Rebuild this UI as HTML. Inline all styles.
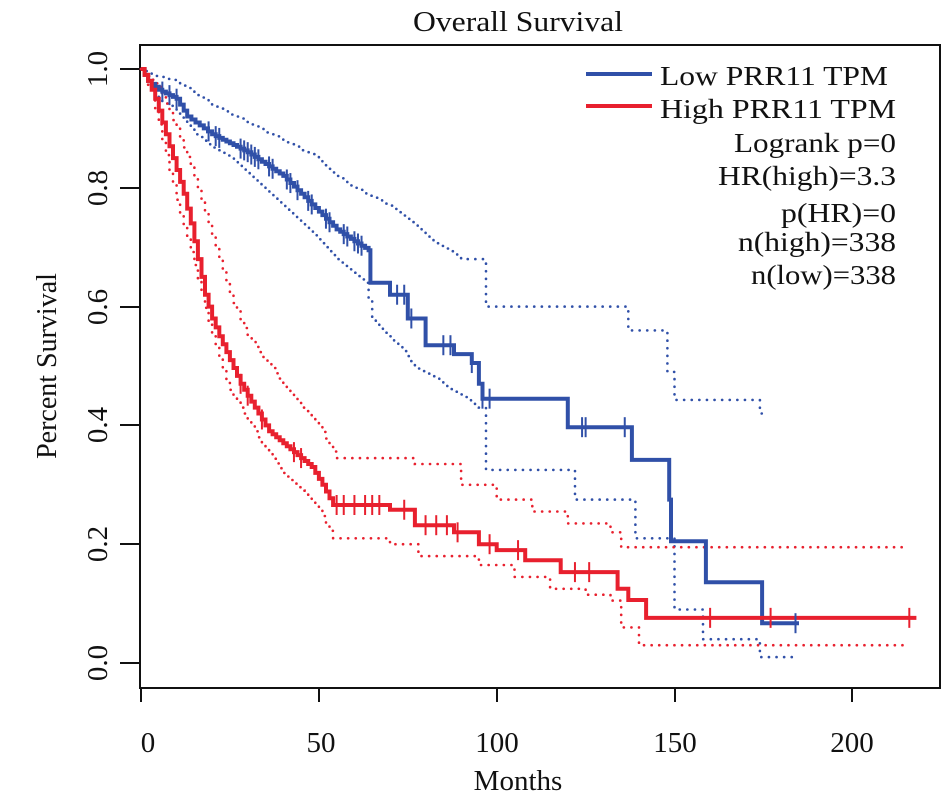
<!DOCTYPE html>
<html><head><meta charset="utf-8"><style>
html,body{margin:0;padding:0;background:#fff;}
svg{display:block;font-family:"Liberation Serif",serif;}
</style></head><body>
<svg id="s" width="945" height="800" viewBox="0 0 945 800" xmlns="http://www.w3.org/2000/svg">
<rect x="140" y="45" width="800" height="643" fill="none" stroke="#111" stroke-width="2"/>
<text x="518" y="31" font-size="28" text-anchor="middle" fill="#111" textLength="210" lengthAdjust="spacingAndGlyphs">Overall Survival</text>
<text x="518" y="790" font-size="29" text-anchor="middle" fill="#111">Months</text>
<text transform="translate(56,366) rotate(-90)" font-size="28" text-anchor="middle" fill="#111">Percent Survival</text>
<g stroke="#111" stroke-width="2">
<line x1="141" y1="688" x2="141" y2="702"/><line x1="319" y1="688" x2="319" y2="702"/><line x1="497" y1="688" x2="497" y2="702"/><line x1="675" y1="688" x2="675" y2="702"/><line x1="852" y1="688" x2="852" y2="702"/>
<line x1="120" y1="663" x2="140" y2="663"/><line x1="120" y1="544" x2="140" y2="544"/><line x1="120" y1="425" x2="140" y2="425"/><line x1="120" y1="307" x2="140" y2="307"/><line x1="120" y1="188" x2="140" y2="188"/><line x1="120" y1="69" x2="140" y2="69"/>
</g>
<g font-size="29" text-anchor="middle" fill="#111">
<text x="148" y="752">0</text><text x="321" y="752">50</text><text x="497" y="752">100</text><text x="675" y="752">150</text><text x="852" y="752">200</text>
</g>
<g font-size="29" text-anchor="middle" fill="#111">
<text transform="translate(107,663) rotate(-90)">0.0</text>
<text transform="translate(107,544) rotate(-90)">0.2</text>
<text transform="translate(107,425) rotate(-90)">0.4</text>
<text transform="translate(107,307) rotate(-90)">0.6</text>
<text transform="translate(107,188) rotate(-90)">0.8</text>
<text transform="translate(107,69) rotate(-90)">1.0</text>
</g>
<line x1="586" y1="74" x2="652" y2="74" stroke="#3050a8" stroke-width="4"/>
<line x1="586" y1="106" x2="652" y2="106" stroke="#e8202e" stroke-width="4"/>
<g font-size="27" text-anchor="end" fill="#111">
<text x="888" y="85" textLength="228" lengthAdjust="spacingAndGlyphs">Low PRR11 TPM</text>
<text x="896" y="118" textLength="236" lengthAdjust="spacingAndGlyphs">High PRR11 TPM</text>
<text x="896" y="152" textLength="162" lengthAdjust="spacingAndGlyphs">Logrank p=0</text>
<text x="896" y="185" textLength="178" lengthAdjust="spacingAndGlyphs">HR(high)=3.3</text>
<text x="896" y="222" textLength="115" lengthAdjust="spacingAndGlyphs">p(HR)=0</text>
<text x="896" y="251" textLength="158" lengthAdjust="spacingAndGlyphs">n(high)=338</text>
<text x="896" y="284" textLength="145" lengthAdjust="spacingAndGlyphs">n(low)=338</text>
</g>
<g id="g"></g>
</svg>
<script>
var X=function(m){return 141+3.557*m},Y=function(s){return 663-594*s};
function refine(p,lim){var o=[p[0]];for(var i=1;i<p.length;i++){var a=p[i-1],b=p[i];
if(b[0]<=lim&&b[0]-a[0]>1.2){var n=Math.round((b[0]-a[0])/1.1);for(var k=1;k<n;k++){o.push([a[0]+(b[0]-a[0])*k/n,a[1]+(b[1]-a[1])*k/n]);}}o.push(b);}return o;}
function step(pts,end){var d="M"+X(0)+","+Y(pts[0][1]);
for(var i=1;i<pts.length;i++){d+=" H"+X(pts[i][0]).toFixed(1)+" V"+Y(pts[i][1]).toFixed(1);}
d+=" H"+X(end).toFixed(1);return d;}
var B=[[0,1],[2,0.98],[5,0.965],[10,0.95],[13,0.92],[20,0.89],[25,0.875],[30,0.86],[35,0.84],[40,0.82],[45,0.79],[50,0.76],[55,0.73],[60,0.71],[64,0.695],[64.5,0.64],[70,0.62],[75,0.58],[80,0.535],[88,0.52],[93,0.505],[95,0.47],[96,0.445],[120,0.397],[138,0.342],[148.5,0.275],[149,0.205],[158.8,0.136],[174.6,0.067]];
var R=[[0,1],[2,0.98],[4,0.95],[6,0.91],[8,0.87],[10,0.83],[12,0.79],[14,0.74],[16,0.68],[18,0.62],[20,0.58],[22,0.55],[25,0.51],[28,0.47],[32,0.43],[36,0.39],[40,0.37],[44,0.35],[48,0.33],[51,0.3],[54,0.266],[70,0.258],[77,0.232],[88,0.22],[95,0.2],[100,0.19],[108,0.173],[118,0.153],[133,0.153],[134,0.125],[137,0.106],[142,0.076]];
var BU=[[0,1],[3,0.99],[10,0.98],[15,0.96],[20,0.94],[30,0.91],[40,0.88],[50,0.85],[55,0.82],[60,0.8],[70,0.77],[80,0.72],[90,0.68],[97,0.6],[123,0.6],[137,0.56],[148,0.49],[150,0.443],[174,0.42]];
var BL=[[0,1],[5,0.95],[10,0.93],[15,0.89],[25,0.85],[35,0.8],[45,0.74],[55,0.68],[63,0.64],[65,0.58],[70,0.55],[77,0.5],[85,0.47],[95,0.43],[97,0.325],[120,0.325],[122,0.275],[137,0.275],[139,0.21],[148,0.21],[150,0.09],[158,0.04],[174,0.01]];
var RU=[[0,1],[5,0.97],[10,0.9],[15,0.82],[20,0.72],[25,0.62],[30,0.55],[40,0.47],[45,0.43],[50,0.4],[55,0.345],[77,0.335],[90,0.3],[100,0.275],[110,0.255],[120,0.235],[132,0.22],[135,0.195]];
var RL=[[0,1],[3,0.96],[6,0.88],[10,0.78],[15,0.67],[20,0.55],[25,0.46],[30,0.41],[35,0.36],[40,0.32],[45,0.29],[50,0.26],[54,0.21],[70,0.2],[78,0.18],[95,0.165],[105,0.145],[115,0.125],[125,0.115],[132,0.105],[135,0.06],[140,0.03]];
B=refine(B,64);R=refine(R,54);BU=refine(BU,96);BL=refine(BL,96);RU=refine(RU,56);RL=refine(RL,54);
var h="";
function dot(p,end,c){h+='<path d="'+step(p,end)+'" fill="none" stroke="'+c+'" stroke-width="2.6" stroke-dasharray="0.1 7.5" stroke-linecap="round"/>';}
dot(BU,176,"#3050a8");dot(BL,185,"#3050a8");dot(RU,215,"#e8202e");dot(RL,215,"#e8202e");
h+='<path d="'+step(B,185)+'" fill="none" stroke="#3050a8" stroke-width="4"/>';
h+='<path d="'+step(R,218)+'" fill="none" stroke="#e8202e" stroke-width="4"/>';
function val(p,m){var v=p[0][1];for(var i=0;i<p.length;i++)if(p[i][0]<=m)v=p[i][1];return v;}
function cens(p,ms,c){ms.forEach(function(m){var x=X(m),y=Y(val(p,m));h+='<line x1="'+x+'" y1="'+(y-10)+'" x2="'+x+'" y2="'+(y+10)+'" stroke="'+c+'" stroke-width="2"/>';});}
cens(B,[6,8,10,19,21,22,28,29,30,31,32,33,36,37,41,42,44,47,48,52,53,57,58,60,61,62,72,74,76,85,87,93,96,98,124,125,136,184],"#3050a8");
cens(R,[28,30,34,43,45,55,57,60,63,65,67,74,80,83,86,89,98,106,122,126,160,177,216],"#e8202e");
document.getElementById("g").innerHTML=h;
</script>
</body></html>
